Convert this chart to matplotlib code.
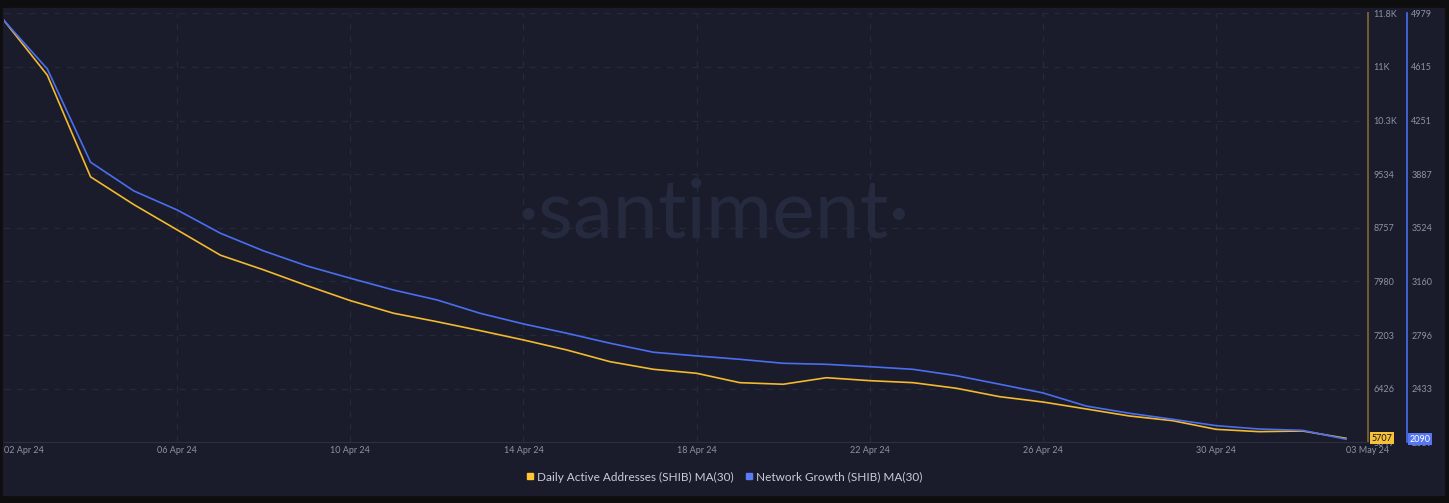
import numpy as np
import matplotlib
matplotlib.use('Agg')
import matplotlib.pyplot as plt
import matplotlib.dates as mdates
from matplotlib.patches import Rectangle
from matplotlib.lines import Line2D
import datetime as dt

plt.rcParams['font.family'] = ['Lato', 'DejaVu Sans']

dates = [dt.date(2024, 4, 2) + dt.timedelta(days=i) for i in range(32)]

daily_active = [11761, 10969, 9495, 9093, 8727, 8360, 8147, 7919, 7702, 7519,
                7397, 7267, 7132, 6987, 6817, 6707, 6649, 6513, 6490, 6585,
                6542, 6513, 6432, 6310, 6233, 6132, 6030, 5962, 5837, 5803,
                5813, 5707]
network_growth = [4930, 4602, 3969, 3774, 3645, 3487, 3367, 3265, 3182, 3102,
                  3035, 2944, 2872, 2809, 2741, 2680, 2655, 2632, 2605, 2598,
                  2582, 2564, 2521, 2463, 2404, 2315, 2266, 2225, 2182, 2159,
                  2150, 2090]

left_ticks = [5649, 6426, 7203, 7980, 8757, 9534, 10311, 11088, 11865]
left_labels = ['5649', '6426', '7203', '7980', '8757', '9534', '10.3K', '11K', '11.8K']
right_ticks = [2069, 2433, 2796, 3160, 3524, 3887, 4251, 4615, 4979]
right_labels = ['2069', '2433', '2796', '3160', '3524', '3887', '4251', '4615', '4979']

x_tick_dates = [dt.date(2024, 4, 2), dt.date(2024, 4, 6), dt.date(2024, 4, 10),
                dt.date(2024, 4, 14), dt.date(2024, 4, 18), dt.date(2024, 4, 22),
                dt.date(2024, 4, 26), dt.date(2024, 4, 30), dt.date(2024, 5, 3)]
x_tick_labels = ['02 Apr 24', '06 Apr 24', '10 Apr 24', '14 Apr 24', '18 Apr 24',
                 '22 Apr 24', '26 Apr 24', '30 Apr 24', '03 May 24']

yellow = '#f3b92f'
blue = '#4a6ef0'
panel = '#1a1c2b'
grid_c = '#252939'
label_c = '#8d92a3'

W, H = 1449, 503
fig = plt.figure(figsize=(W / 100, H / 100), dpi=100)
fig.patch.set_facecolor('#0e0e0f')
fig.patches.append(Rectangle((3 / W, 1 - 495 / H), (1444 - 3) / W, (495 - 8) / H,
                             transform=fig.transFigure, color=panel, zorder=-10))

ax = fig.add_axes([4 / W, 1 - 442.3 / H, 1364 / W, 429 / H])
ax.set_facecolor('none')
ax2 = ax.twinx()
ax2.set_facecolor('none')

xd = mdates.date2num(dates)
ax.plot(xd, daily_active, color=yellow, lw=1.2, zorder=3)
ax2.plot(xd, network_growth, color=blue, lw=1.2, zorder=3)

ax.set_xlim(xd[0], xd[0] + 31.51)
ax.set_ylim(left_ticks[0], left_ticks[-1])
ax2.set_ylim(right_ticks[0], right_ticks[-1])

# grid
for t in left_ticks[1:]:
    ax.axhline(t, color=grid_c, lw=0.9, ls=(0, (5, 5)), zorder=1)
for d in x_tick_dates[1:-1]:
    ax.axvline(mdates.date2num(d), color=grid_c, lw=0.9, ls=(0, (5, 5)), zorder=1)

# watermark
ax.text(0.52, 0.53, '\u00b7santiment\u00b7', transform=ax.transAxes, ha='center',
        va='center', fontsize=58, color='#252a3e', fontweight='normal', zorder=0)

# x axis
ax.set_xticks(mdates.date2num(x_tick_dates))
ax.set_xticklabels(x_tick_labels)
ax.tick_params(axis='x', length=0, pad=3, labelsize=6.5, labelcolor=label_c)
ax.get_xticklabels()[0].set_ha('left')
ax.get_xticklabels()[-1].set_ha('left')

for s in ['top', 'left']:
    ax.spines[s].set_visible(False)
    ax2.spines[s].set_visible(False)
ax.spines['bottom'].set_color('#2b2f40')
ax2.spines['bottom'].set_visible(False)

# left value axis (drawn on right side)
ax.yaxis.tick_right()
ax.set_yticks(left_ticks)
ax.set_yticklabels(left_labels)
ax.tick_params(axis='y', length=0, pad=4, labelsize=6.5, labelcolor=label_c)
ax.spines['right'].set_color('#6e5b34')
ax.spines['right'].set_linewidth(1.5)

ax2.spines['right'].set_position(('axes', 1.0286))
ax2.spines['right'].set_color(blue)
ax2.spines['right'].set_linewidth(1.2)
ax2.set_yticks(right_ticks)
ax2.set_yticklabels(right_labels)
ax2.tick_params(axis='y', length=0, pad=3, labelsize=6.5, labelcolor=label_c)

# last value boxes
ax.annotate(str(daily_active[-1]), xy=(1.0025, daily_active[-1]),
            xycoords=('axes fraction', 'data'), ha='left', va='center',
            fontsize=6.5, color='#111111', zorder=10, annotation_clip=False,
            bbox=dict(boxstyle='square,pad=0.15', fc='#f7c23a', ec='none'))
ax2.annotate(str(network_growth[-1]), xy=(1.0305, network_growth[-1]),
             xycoords=('axes fraction', 'data'), ha='left', va='center',
             fontsize=6.5, color='white', zorder=10, annotation_clip=False,
             bbox=dict(boxstyle='square,pad=0.15', fc='#5577f5', ec='none'))

handles = [Line2D([], [], ls='none', marker='s', markersize=4.5, color='#ffc532'),
           Line2D([], [], ls='none', marker='s', markersize=4.5, color='#5b7cf7')]
fig.legend(handles, ['Daily Active Addresses (SHIB) MA(30)', 'Network Growth (SHIB) MA(30)'],
           loc='center', bbox_to_anchor=(724 / W, 1 - 477 / H), ncol=2, frameon=False,
           fontsize=8.5, labelcolor='#c9cdd8', handletextpad=0.3, columnspacing=1.0,
           handlelength=0.6)

fig.savefig('out.png', dpi=100, facecolor=fig.get_facecolor())
